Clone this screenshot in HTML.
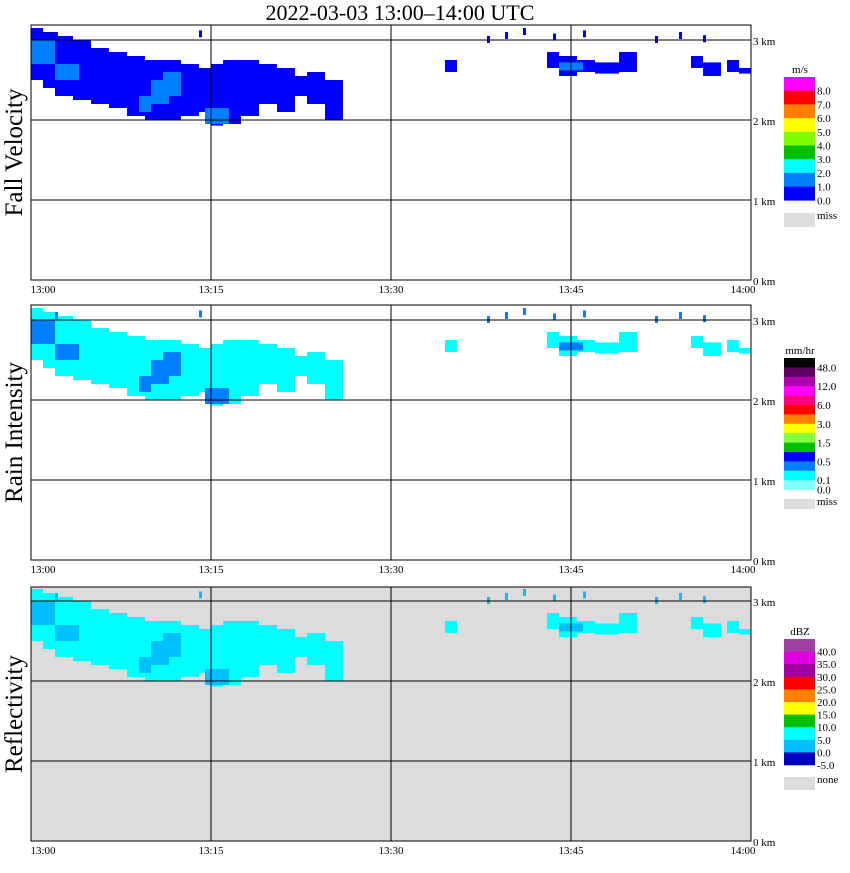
<!DOCTYPE html>
<html><head><meta charset="utf-8"><style>
body{margin:0;background:#fff;width:850px;height:868px;overflow:hidden}
svg text{font-family:"Liberation Serif",serif;fill:#000}
</style></head><body>
<svg id="c" width="850" height="868">
<text x="400" y="20" font-size="22" text-anchor="middle">2022-03-03  13:00–14:00 UTC</text>
</svg>
<script>
// echo segments: [startMin, endMin, topKm, bottomKm]
const bandStart=[0,1,2,3.5,5,6.5,8,9.5,11,12.5,14,15,16,17.5,19,20.5,22,23,24.5,34.5,43,44,45.5,47,49,55,56,58,59];
const bandEnd  =[1,2,3.5,5,6.5,8,9.5,11,12.5,14,15,16,17.5,19,20.5,22,23,24.5,26,35.5,44,45.5,47,49,50.5,56,57.5,59,60];
const bandTop  =[3.15,3.1,3.05,3.0,2.9,2.85,2.8,2.75,2.75,2.7,2.65,2.7,2.75,2.75,2.7,2.65,2.55,2.6,2.5,2.75,2.85,2.8,2.75,2.72,2.85,2.8,2.72,2.75,2.65];
const bandBot  =[2.5,2.4,2.3,2.25,2.2,2.15,2.05,2.0,2.0,2.05,2.1,1.93,1.95,2.05,2.2,2.1,2.3,2.2,2.0,2.6,2.65,2.55,2.6,2.58,2.6,2.65,2.55,2.6,2.58];
const coreStart=[0,2,9,10,11,14.5,44];
const coreEnd  =[2,4,10,11.5,12.5,16.5,46];
const coreTop  =[3.0,2.7,2.3,2.5,2.6,2.15,2.72];
const coreBot  =[2.7,2.5,2.1,2.2,2.3,1.95,2.62];
const dotTime=[2,14,38,39.5,41,43.5,46,52,54,56];
const dotKm  =[3.1,3.12,3.05,3.1,3.15,3.08,3.12,3.05,3.1,3.06];
const xTicks=["13:00","13:15","13:30","13:45","14:00"];
const yTicks=["0 km","1 km","2 km","3 km"];
const panels=[
 {name:"fall-velocity",title:"Fall Velocity",y0:280,top:25,bg:"#fff",c0:"#0000ff",c1:"#0080ff",
  unit:"m/s",cb:["#ff00ff","#ff0000","#ff8000","#ffff00","#80ff00","#00c000","#00ffff","#0080ff","#0000ff"],cbTop:77,cbH:13.7,
  labels:["8.0","7.0","6.0","5.0","4.0","3.0","2.0","1.0","0.0"],miss:"miss",missY:213,missH:14},
 {name:"rain-intensity",title:"Rain Intensity",y0:560,top:305,bg:"#fff",c0:"#00ffff",c1:"#0080ff",
  unit:"mm/hr",cb:["#000000","#600060","#b000b0","#ff00ff","#ff0080","#ff0000","#ff8000","#ffff00","#80ff40","#00c000","#0000ff","#0080ff","#00ffff","#80ffff"],cbTop:358,cbH:9.4,
  labels:["48.0","","12.0","","6.0","","3.0","","1.5","","0.5","","0.1","0.0"],miss:"miss",missY:499,missH:10},
 {name:"reflectivity",title:"Reflectivity",y0:841,top:587,bg:"#dcdcdc",c0:"#00ffff",c1:"#00c0ff",
  unit:"dBZ",cb:["#a040a0","#e000e0","#a000a0","#ff0000","#ff8000","#ffff00","#00c000","#00ffff","#00c0ff","#0000c0"],cbTop:639,cbH:12.6,
  labels:["40.0","35.0","30.0","25.0","20.0","15.0","10.0","5.0","0.0","-5.0"],miss:"none",missY:777,missH:13}
];
const svg=document.getElementById('c');const NS="http://www.w3.org/2000/svg";
function mk(t,a,p){const e=document.createElementNS(NS,t);for(const k in a)e.setAttribute(k,a[k]);(p||svg).appendChild(e);return e;}
const X0=31,X1=751;
function xs(m){return X0+m*(X1-X0)/60;}
panels.forEach(P=>{
 const ys=km=>P.y0-km*80;
 const g=mk('g',{});
 
 
 const bgr=mk('rect',{x:X0,y:P.top,width:X1-X0,height:P.y0-P.top,fill:P.bg},g);
 
 
 for(let i=0;i<bandStart.length;i++){
  const r=mk('rect',{x:xs(bandStart[i]),y:ys(bandTop[i]),width:xs(bandEnd[i])-xs(bandStart[i]),height:ys(bandBot[i])-ys(bandTop[i]),fill:P.c0},g);
  
  
 }
 for(let i=0;i<coreStart.length;i++){
  const r=mk('rect',{x:xs(coreStart[i]),y:ys(coreTop[i]),width:xs(coreEnd[i])-xs(coreStart[i]),height:ys(coreBot[i])-ys(coreTop[i]),fill:P.c1},g);
  
  
 }
 for(let i=0;i<dotTime.length;i++){
  const r=mk('rect',{x:xs(dotTime[i]),y:ys(dotKm[i]),width:3,height:7,fill:P.c0==="#0000ff"?"#0000ff":P.c1},g);
  
  
 }
 for(let k=1;k<=3;k++){mk('line',{x1:X0,x2:X1,y1:ys(k),y2:ys(k),stroke:'#000','stroke-width':1},g);}
 for(let k=1;k<=3;k++){mk('line',{x1:xs(k*15),x2:xs(k*15),y1:P.top,y2:P.y0,stroke:'#000','stroke-width':1},g);}
 mk('rect',{x:X0,y:P.top,width:X1-X0,height:P.y0-P.top,fill:'none',stroke:'#000','stroke-width':1},g);
 xTicks.forEach((t,i)=>{const e=mk('text',{x:xs(i*15)+(i==0?12:i==4?-8:0),y:P.y0+13,'font-size':11,'text-anchor':'middle'},g);e.textContent=t;
  });
 yTicks.forEach((t,i)=>{const e=mk('text',{x:753,y:ys(i)+5,'font-size':11},g);e.textContent=t;
  });
 const tt=mk('text',{x:0,y:0,'font-size':25,'text-anchor':'middle',transform:`translate(22,${(P.top+P.y0)/2}) rotate(-90)`},g);tt.textContent=P.title;
 
 const u=mk('text',{x:800,y:P.cbTop-4,'font-size':11,'text-anchor':'middle'},g);u.textContent=P.unit;
 
 P.cb.forEach((c,i)=>{const r=mk('rect',{x:784,y:P.cbTop+i*P.cbH,width:31,height:P.cbH+0.3,fill:c},g);
  
  if(P.labels[i]){const e=mk('text',{x:817,y:P.cbTop+(i+1)*P.cbH+4,'font-size':11},g);e.textContent=P.labels[i];
  }});
 const m=mk('rect',{x:784,y:P.missY,width:31,height:P.missH,fill:'#dcdcdc'},g);
 
 const mt=mk('text',{x:817,y:P.missY+6,'font-size':11},g);mt.textContent=P.miss;
 
});
</script>
</body></html>
